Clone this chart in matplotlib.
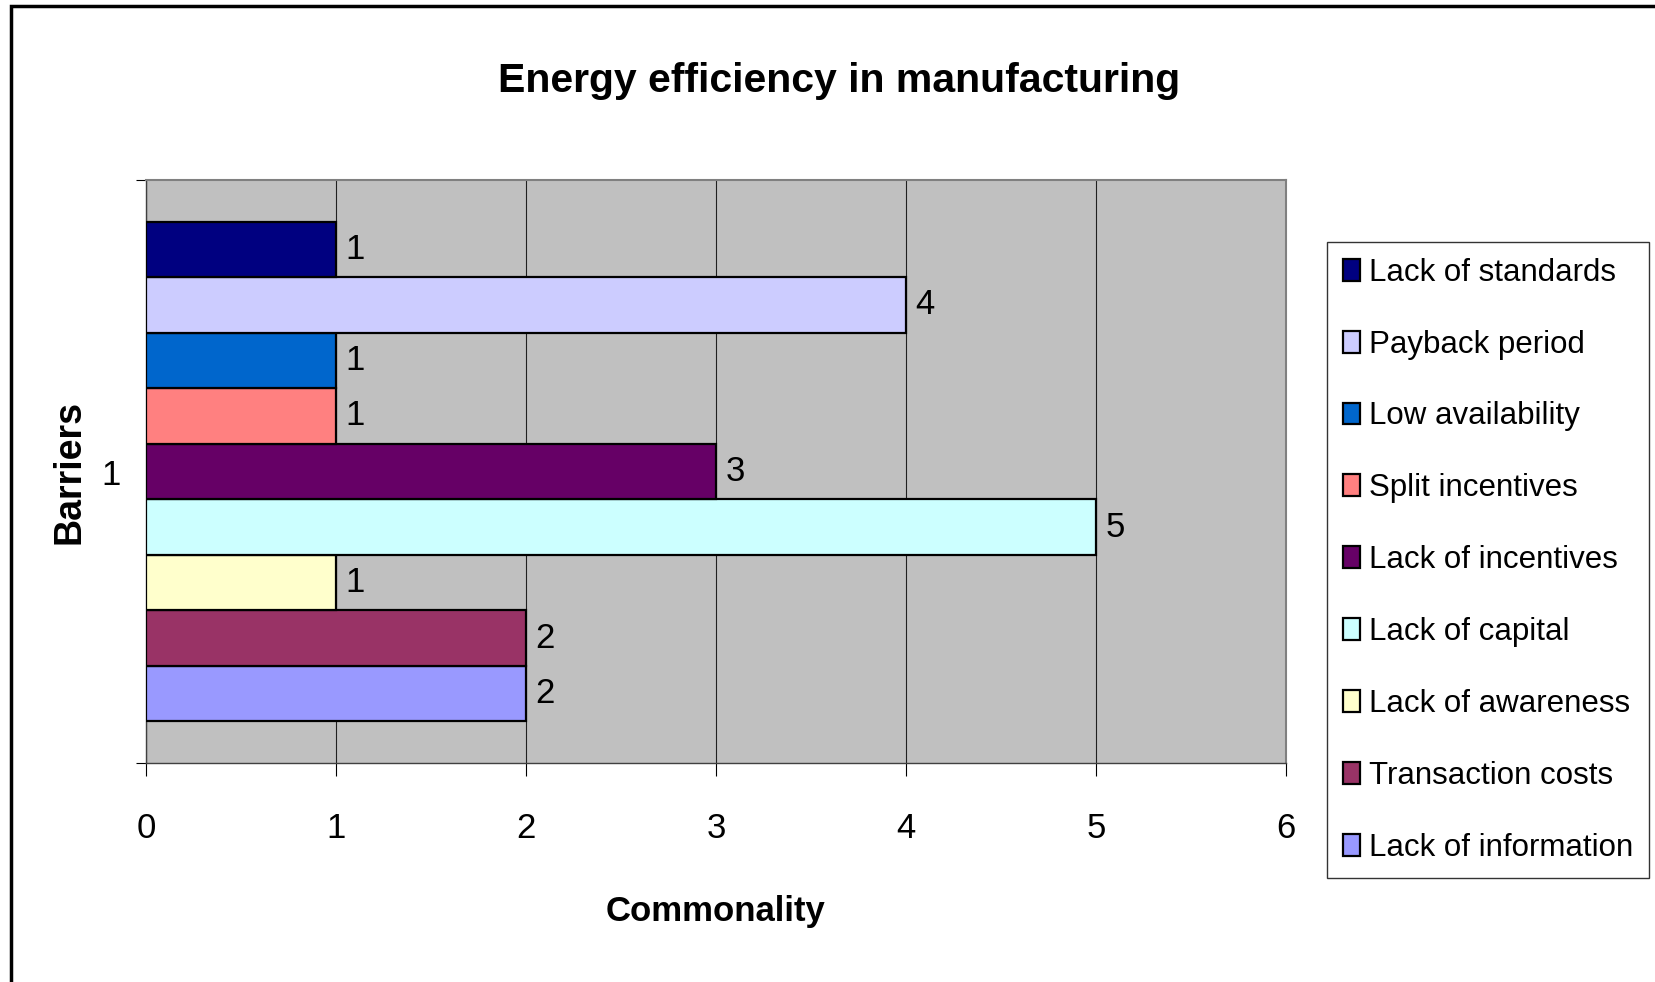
import numpy as np
import matplotlib.pyplot as plt
from matplotlib.patches import Rectangle

# series, bottom to top as drawn
barriers = ["Lack of information", "Transaction costs", "Lack of awareness",
            "Lack of capital", "Lack of incentives", "Split incentives",
            "Low availability", "Payback period", "Lack of standards"]
commonality = [2, 2, 1, 5, 3, 1, 1, 4, 1]
colours = ["#9999FF", "#993366", "#FFFFCC", "#CCFFFF", "#660066",
           "#FF8080", "#0066CC", "#CCCCFF", "#000080"]
x_ticks = [0, 1, 2, 3, 4, 5, 6]
category = "1"

plt.rcParams['font.family'] = ['Liberation Sans', 'DejaVu Sans']

fig = plt.figure(figsize=(16.55, 9.82), dpi=100)
ax = fig.add_axes([0.0882, 0.223, 0.6888, 0.5937])
ax.set_facecolor("#C0C0C0")

# 150% gap width like the spreadsheet default
n = len(barriers)
h = 1.0 / (n + 1.5)
y0 = 0.75 * h
bars = []
for i, (name, v, c) in enumerate(zip(barriers, commonality, colours)):
    b = ax.barh(y0 + (i + 0.5) * h, v, height=h, color=c, edgecolor="black",
                linewidth=1.6, label=name, zorder=3)
    ax.bar_label(b, labels=[str(v)], padding=7, fontsize=25, zorder=4)
    bars.append(b)

ax.set_xlim(0, 6)
ax.set_ylim(0, 1)
ax.set_xticks(x_ticks)
ax.xaxis.grid(True, color="#202020", linewidth=0.8, zorder=1)
ax.tick_params(axis="x", direction="out", length=9, width=0.8,
               labelsize=25, pad=26)
ax.set_yticks([0.5])
ax.set_yticklabels([category])
ax.set_yticks([0, 1], minor=True)
ax.tick_params(axis="y", which="major", length=0, labelsize=25, pad=18)
ax.tick_params(axis="y", which="minor", direction="out", length=7, width=0.8)

for s in ["top", "right"]:
    ax.spines[s].set_color("#808080")
    ax.spines[s].set_linewidth(1.5)
for s in ["left", "bottom"]:
    ax.spines[s].set_color("#404040")
    ax.spines[s].set_linewidth(1.0)

ax.set_xlabel("Commonality", fontsize=25, fontweight="bold", labelpad=36)
ax.set_ylabel("Barriers", fontsize=27, fontweight="bold", labelpad=10)

fig.text(0.507, 0.918, "Energy efficiency in manufacturing", ha="center",
         va="center", fontsize=29.5, fontweight="bold")

handles = bars[::-1]
leg = fig.legend(handles, barriers[::-1], loc="upper left",
                 bbox_to_anchor=(0.8018, 0.7535), fontsize=22.5, frameon=True,
                 fancybox=False, edgecolor="black", labelspacing=1.34,
                 handlelength=0.55, handleheight=0.7, handletextpad=0.3,
                 borderpad=0.5, borderaxespad=0)
leg.get_frame().set_linewidth(1.0)

# outer chart border
fig.patches.append(Rectangle((11 / 1655, -0.02), 1.1, 1.014,
                             transform=fig.transFigure, fill=False,
                             edgecolor="black", linewidth=2.5))

fig.savefig("out.png", dpi=100)
